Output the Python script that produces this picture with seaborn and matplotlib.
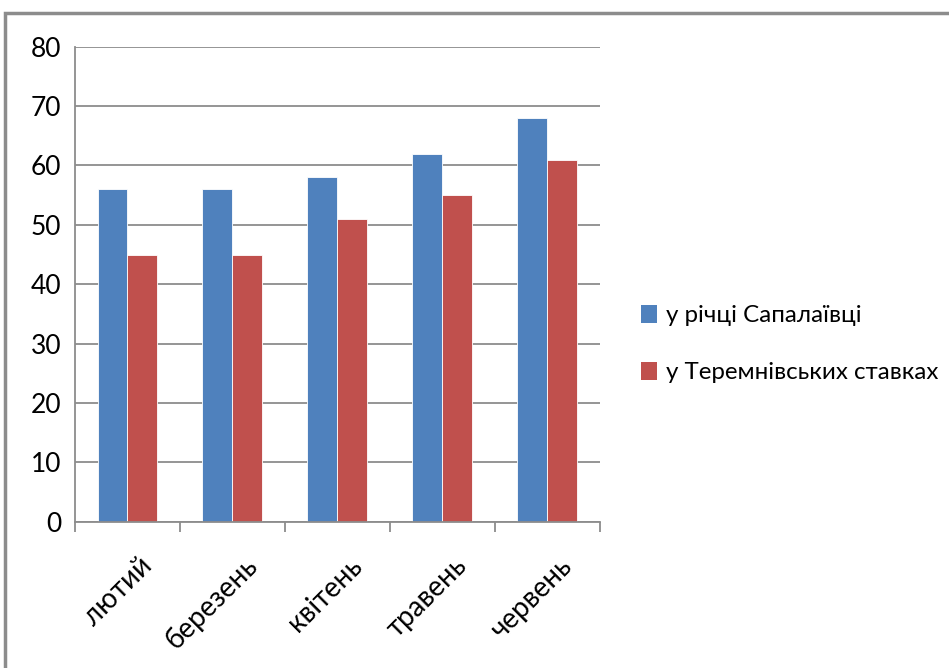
"""Grouped bar chart: two sites by month."""
import matplotlib
matplotlib.use("Agg")
import matplotlib.pyplot as plt
import matplotlib.transforms as mtransforms
from matplotlib.patches import Patch, Rectangle
import numpy as np
import pandas as pd
import seaborn as sns

MONTHS = ["лютий", "березень", "квітень", "травень", "червень"]
SERIES = ["у річці Сапалаївці", "у Теремнівських ставках"]
RIVER = [56, 56, 58, 62, 68]
PONDS = [45, 45, 51, 55, 61]
COLORS = ["#4F81BD", "#C0504D"]

df = pd.DataFrame({
    "month": MONTHS * 2,
    "series": [SERIES[0]] * len(MONTHS) + [SERIES[1]] * len(MONTHS),
    "value": RIVER + PONDS,
})

sns.set_style("white")
plt.rcParams["font.family"] = ["Lato", "DejaVu Sans"]
plt.rcParams["text.color"] = "black"
plt.rcParams["xtick.color"] = "black"
plt.rcParams["ytick.color"] = "black"

fig = plt.figure(figsize=(9.49, 6.68), dpi=100)
ax = fig.add_axes([0.079, 0.219, 0.553, 0.711])

sns.barplot(data=df, x="month", y="value", hue="series", order=MONTHS,
            hue_order=SERIES, palette=COLORS, width=0.57, ax=ax,
            edgecolor="white", linewidth=0.6, legend=False, saturation=1)

ax.set_ylim(0, 80)
ax.set_xlim(-0.5, len(MONTHS) - 0.5)
ax.set_yticks(np.arange(0, 81, 10))
ax.yaxis.grid(True, color="#8c8c8c", lw=1.3)
ax.set_axisbelow(True)
ax.set_xlabel("")
ax.set_ylabel("")

ax.set_xticks(range(len(MONTHS)))
ax.set_xticklabels(MONTHS, rotation=45, ha="right", rotation_mode="anchor")
ax.set_xticks(np.arange(-0.5, len(MONTHS), 1), minor=True)
ax.tick_params(axis="x", which="major", length=0, pad=22, labelsize=20)
ax.tick_params(axis="x", which="minor", length=7, color="#8c8c8c", width=1.3, direction="out")
ax.tick_params(axis="y", length=7, color="#8c8c8c", labelcolor="black", width=1.3,
               direction="out", labelsize=19, pad=3)
ax.xaxis.set_tick_params(bottom=True, which="minor")

shift = mtransforms.ScaledTranslation(8 / 72, 0, fig.dpi_scale_trans)
for lbl in ax.get_xticklabels():
    lbl.set_transform(lbl.get_transform() + shift)

for side in ["top", "right"]:
    ax.spines[side].set_visible(False)
for side in ["left", "bottom"]:
    ax.spines[side].set_color("#8c8c8c")
    ax.spines[side].set_linewidth(1.3)

handles = [Patch(facecolor=c, edgecolor="none") for c in COLORS]
fig.legend(handles, SERIES, loc="center left", bbox_to_anchor=(0.653, 0.485),
           frameon=False, fontsize=17.4, labelspacing=1.45, handlelength=0.65,
           handleheight=0.8, handletextpad=0.35)

fig.patches.append(Rectangle((0.005, -0.1), 1.2, 1.08, transform=fig.transFigure,
                             fill=False, edgecolor="#8c8c8c", lw=2.5))

fig.savefig("out.png", dpi=100)
